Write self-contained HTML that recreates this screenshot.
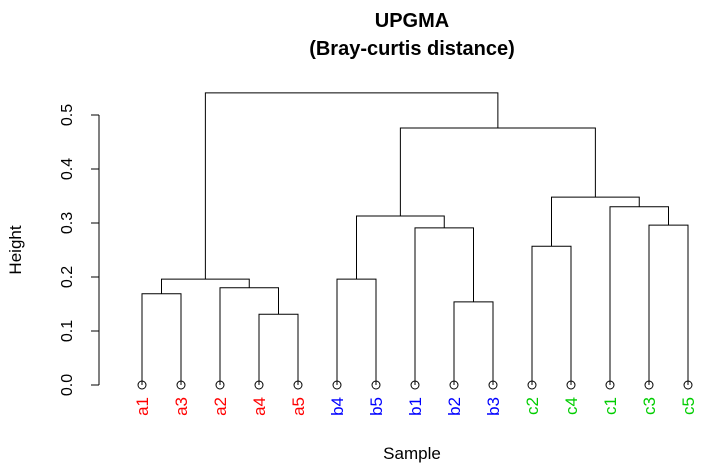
<!DOCTYPE html>
<html><head><meta charset="utf-8"><style>
body{margin:0;background:#fff}
svg text{font-family:"Liberation Sans",Arial,sans-serif}
</style></head><body>
<svg id="chart" width="704" height="463" xmlns="http://www.w3.org/2000/svg">
<text x="412" y="27" text-anchor="middle" font-size="20" font-weight="bold">UPGMA</text>
<text x="412" y="55" text-anchor="middle" font-size="20" font-weight="bold">(Bray-curtis distance)</text>
<text x="412" y="459" text-anchor="middle" font-size="17">Sample</text>
<text transform="translate(21,250) rotate(-90)" text-anchor="middle" font-size="17">Height</text>
<g id="axis"></g>
<g id="tree"></g>
<g id="leaves"></g>
</svg>
<script>
// leaf labels in plot order
const leafLabels = ["a1","a3","a2","a4","a5","b4","b5","b1","b2","b3","c2","c4","c1","c3","c5"];
const leafColors = ["red","red","red","red","red","blue","blue","blue","blue","blue","#00CD00","#00CD00","#00CD00","#00CD00","#00CD00"];
// merges: negative = leaf (-k is k-th leaf), positive = earlier merge (1-based)
const merges = [
 [-1,-2],[-4,-5],[-3,2],[-9,-10],[-8,4],[-6,-7],[-11,-12],[-14,-15],[-13,8],
 [1,3],[6,5],[7,9],[11,12],[10,13]
];
const heights = [0.169,0.131,0.180,0.154,0.291,0.196,0.257,0.296,0.330,0.196,0.313,0.348,0.476,0.541];
const yTicks = [0.0,0.1,0.2,0.3,0.4,0.5];

const NS="http://www.w3.org/2000/svg";
function xs(i){return 142+i*39.0;}
function ys(v){return 385-v*540;}
const axis=document.getElementById('axis'),tree=document.getElementById('tree'),lv=document.getElementById('leaves');
function mk(tag,at,parent){const e=document.createElementNS(NS,tag);for(const k in at)e.setAttribute(k,at[k]);parent.appendChild(e);return e;}
const al=mk('line',{x1:99,x2:99,y1:ys(0),y2:ys(0.5),stroke:'#000'},axis);


yTicks.forEach(t=>{
 const tk=mk('line',{x1:91,x2:99,y1:ys(t),y2:ys(t),stroke:'#000'},axis);
 
 
 const tx=mk('text',{transform:`translate(72,${ys(t)}) rotate(-90)`,'text-anchor':'middle','font-size':16},axis);
 tx.textContent=t.toFixed(1);
 
 
});
leafLabels.forEach((lab,i)=>{
 const c=mk('circle',{cx:xs(i),cy:ys(0),r:4,fill:'none',stroke:'#000'},lv);
 
 
 const t=mk('text',{transform:`translate(${xs(i)+6},${ys(0)+12}) rotate(-90)`,'text-anchor':'end','font-size':17,fill:leafColors[i]},lv);
 t.textContent=lab;
 
 
});
const pos=[];
function node(k){ if(k<0) return {x:xs(-k-1),y:ys(0)}; return pos[k-1]; }
merges.forEach((m,i)=>{
 const a=node(m[0]),b=node(m[1]),y=ys(heights[i]);
 const p=mk('path',{d:`M${a.x},${a.y}V${y}H${b.x}V${b.y}`,fill:'none',stroke:'#000'},tree);
 
 
 pos.push({x:(a.x+b.x)/2,y:y});
});
</script>
</body></html>
